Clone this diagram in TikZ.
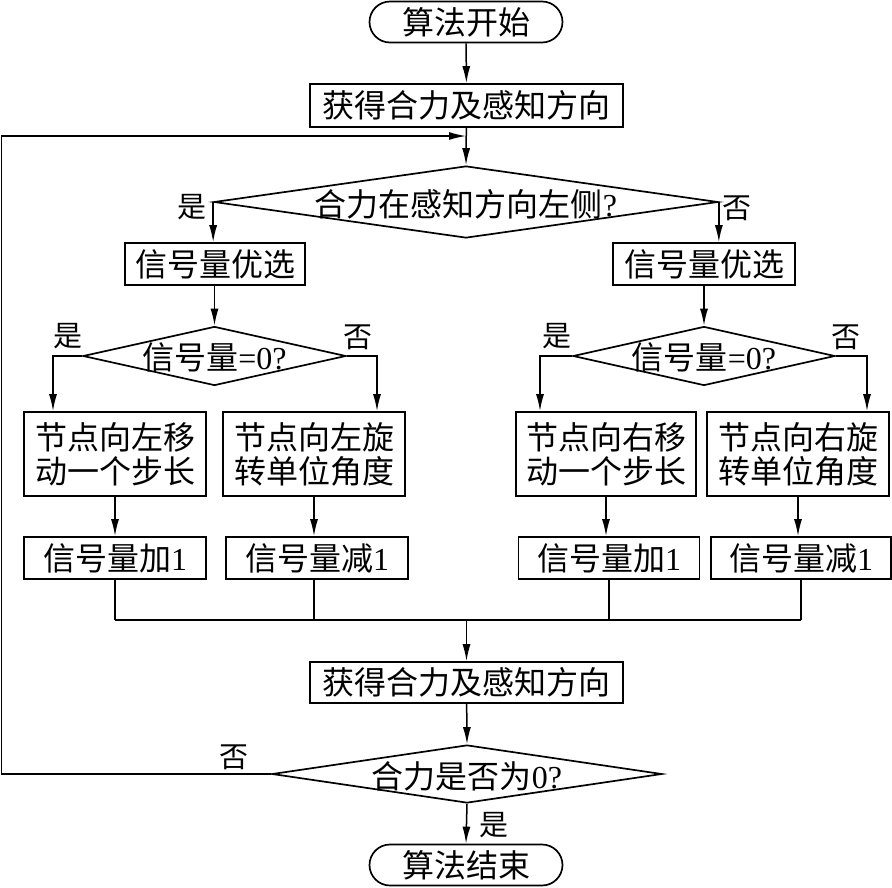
\documentclass[tikz,border=0pt]{standalone}
\usepackage{fontspec}
\setmainfont{Liberation Serif}
\newfontfamily\cjk{Noto Sans CJK SC}
\usetikzlibrary{shapes.misc,shapes.geometric,arrows.meta}
\tikzset{
  box/.style={draw, line width=1.7pt, inner sep=0pt, align=center,
    font=\cjk\fontsize{32}{34}\selectfont},
  term/.style={box, rounded rectangle, minimum width=193pt, minimum height=41pt},
  dia/.style={draw, diamond, line width=1.7pt, inner sep=0pt},
  dtext/.style={inner sep=0pt, font=\cjk\fontsize{32}{34}\selectfont},
  lab/.style={inner sep=0pt, font=\cjk\fontsize{29}{30}\selectfont},
  arr/.style={line width=1.5pt, -{Latex[length=17pt,width=8pt]}},
  ln/.style={line width=1.5pt},
}
\begin{document}
\begin{tikzpicture}[x=1pt,y=-1pt]
\useasboundingbox (0,0) rectangle (892,887);
% nodes
\node[term] (start) at (466,22) {算法开始};
\node[box, minimum width=313pt, minimum height=43pt] (get1) at (466.5,105.5) {获得合力及感知方向};
\node[dia, minimum width=504pt, minimum height=72pt] (d1) at (466,202) {};
\node[dtext] (d1t) at (466,204) {合力在感知方向左侧\textrm{?}};
\node[lab] (d1y) at (192,207) {是};
\node[lab] (d1n) at (737,208) {否};

\node[box, minimum width=180pt, minimum height=42pt] (sel1) at (215,264) {信号量优选};
\node[box, minimum width=182pt, minimum height=42pt] (sel2) at (704,264) {信号量优选};

\node[dia, minimum width=263pt, minimum height=59pt] (d2L) at (214.5,356) {};
\node[dtext] (d2Lt) at (214.5,357) {信号量\textrm{=0?}};
\node[lab] (d2Ly) at (68,336) {是};
\node[lab] (d2Ln) at (358,337) {否};
\node[dia, minimum width=262pt, minimum height=59pt] (d2R) at (704,356) {};
\node[dtext] (d2Rt) at (704,357) {信号量\textrm{=0?}};
\node[lab] (d2Ry) at (557,336) {是};
\node[lab] (d2Rn) at (846,337) {否};

\node[box, minimum width=182pt, minimum height=84pt] (mL) at (115,454) {节点向左移\\动一个步长};
\node[box, minimum width=182pt, minimum height=84pt] (rL) at (314,454) {节点向左旋\\转单位角度};
\node[box, minimum width=180pt, minimum height=84pt] (mR) at (606,454) {节点向右移\\动一个步长};
\node[box, minimum width=182pt, minimum height=84pt] (rR) at (798,454) {节点向右旋\\转单位角度};

\node[box, minimum width=182pt, minimum height=42pt] (aL) at (115,558) {信号量加\textrm{1}};
\node[box, minimum width=182pt, minimum height=42pt] (sL) at (317,558) {信号量减\textrm{1}};
\node[box, minimum width=181pt, minimum height=42pt] (aR) at (609,558) {信号量加\textrm{1}};
\node[box, minimum width=180pt, minimum height=42pt] (sR) at (801,558) {信号量减\textrm{1}};

\node[box, minimum width=313pt, minimum height=41pt] (get2) at (466.5,682.5) {获得合力及感知方向};
\node[dia, minimum width=390pt, minimum height=58pt] (d3) at (467,774) {};
\node[dtext] (d3t) at (467,776) {合力是否为\textrm{0?}};
\node[lab] (d3n) at (234,757) {否};
\node[lab] (d3y) at (494,825) {是};
\node[term] (end) at (466,865) {算法结束};

% coordinates
\coordinate (loopin) at (466,136);
\coordinate (lx) at (1.5,0);
\coordinate (bus) at (0,620);
\coordinate (b2Ll) at (53,0);
\coordinate (b2Lr) at (377,0);
\coordinate (b2Rl) at (540,0);
\coordinate (b2Rr) at (867,0);

% connectors
\draw[arr] (start) -- (get1);
\draw[arr] (get1) -- (d1.north);
\draw[arr] (d1.west) -- (d1.west |- sel1.north);
\draw[arr] (d1.east) -- (d1.east |- sel2.north);
\draw[arr] (sel1.south -| d2L.north) -- (d2L.north);
\draw[arr] (sel2) -- (d2R.north);

\draw[arr] (d2L.west) -- (d2L.west -| b2Ll) -- (b2Ll |- mL.north);
\draw[arr] (d2L.east) -- (d2L.east -| b2Lr) -- (b2Lr |- rL.north);
\draw[arr] (d2R.west) -- (d2R.west -| b2Rl) -- (b2Rl |- mR.north);
\draw[arr] (d2R.east) -- (d2R.east -| b2Rr) -- (b2Rr |- rR.north);

\draw[arr] (mL.south) -- (mL.south |- aL.north);
\draw[arr] (rL.south) -- (rL.south |- sL.north);
\draw[arr] (mR.south) -- (mR.south |- aR.north);
\draw[arr] (rR.south) -- (rR.south |- sR.north);

\draw[ln] (aL.south) -- (aL.south |- bus);
\draw[ln] (sL.south -| rL.south) -- (rL.south |- bus);
\draw[ln] (aR.south) -- (aR.south |- bus);
\draw[ln] (sR.south) -- (sR.south |- bus);
\draw[ln] (aL.south |- bus) -- (sR.south |- bus);
\draw[arr] (get2.north |- bus) -- (get2.north);
\draw[arr] (get2) -- (d3.north);
\draw[arr] (d3.south) -- (end.north);
\draw[arr] (d3.west) -- (d3.west -| lx) |- (loopin);
\end{tikzpicture}
\end{document}
